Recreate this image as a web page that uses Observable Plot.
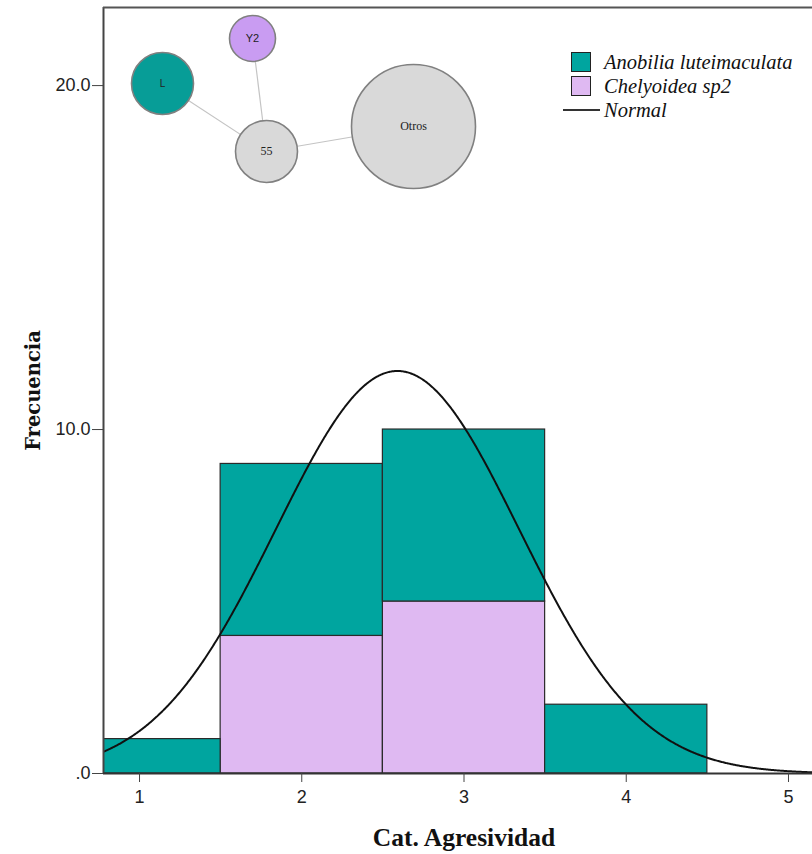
<!DOCTYPE html>
<html>
<head>
<meta charset="utf-8">
<script src="https://cdn.jsdelivr.net/npm/d3@7"></script>
<script src="https://cdn.jsdelivr.net/npm/@observablehq/plot@0.6"></script>
<style>
  html, body { margin: 0; padding: 0; background: #fff; }
  #wrap { position: relative; width: 812px; height: 854px; overflow: hidden; }
  #wrap > svg, #wrap > .inset { position: absolute; left: 0; top: 0; }
  .legend { position: absolute; left: 563px; top: 50px; font-family: "Liberation Serif", serif; font-style: italic; font-size: 20.5px; color: #111; }
  .legend .row { display: flex; align-items: center; height: 24px; }
  .legend .sw { width: 18px; height: 18px; border: 1px solid #222; margin-left: 8px; margin-right: 13px; }
  .legend .ln { width: 37px; height: 2px; background: #333; margin-right: 4px; }
</style>
</head>
<body>
<div id="wrap"></div>
<script>
// ---- data ----
const categories = [1, 2, 3, 4];
const anobilia = [1, 5, 5, 2];
const chelyoidea = [0, 4, 5, 0];
const seriesNames = ["Anobilia luteimaculata", "Chelyoidea sp2"];
const seriesColors = ["#00a59f", "#dfb9f2"];
const xTicks = [1, 2, 3, 4, 5];
const yTicks = [0, 10, 20];
const xDomain = [0.778, 5.148];
const yDomain = [0, 22.27];
// fitted normal curve parameters
const normalMean = 2.59;
const normalSd = 0.75;
const normalN = 22;
const binWidth = 1;

// network inset (layout units)
const nodeNames = ["L", "Y2", "55", "Otros"];
const nodeX = [162, 252, 266, 413];
const nodeY = [83, 38, 151, 126];
const nodeR = [31, 23, 31, 62];
const nodeFill = ["#079d97", "#c99cf2", "#d9d9d9", "#d9d9d9"];
const nodeFont = ["Liberation Sans", "Liberation Sans", "Liberation Serif", "Liberation Serif"];
const nodeFontSize = [10, 11, 12, 12];
const edgeFrom = ["L", "Y2", "55"];
const edgeTo = ["55", "55", "Otros"];

// ---- build tables ----
const rows = [];
categories.forEach((c, i) => {
  if (chelyoidea[i] > 0) rows.push({x1: c - binWidth / 2, x2: c + binWidth / 2, y: chelyoidea[i], series: seriesNames[1]});
});
categories.forEach((c, i) => {
  if (anobilia[i] > 0) rows.push({x1: c - binWidth / 2, x2: c + binWidth / 2, y: anobilia[i], series: seriesNames[0]});
});
const curve = d3.range(xDomain[0], xDomain[1] + 0.005, 0.005).map(x => {
  const z = (x - normalMean) / normalSd;
  return {x, y: normalN * binWidth / (normalSd * Math.sqrt(2 * Math.PI)) * Math.exp(-0.5 * z * z)};
});

const main = Plot.plot({
  width: 812,
  height: 854,
  marginLeft: 103,
  marginRight: 0,
  marginTop: 7,
  marginBottom: 81,
  style: {fontFamily: "Liberation Sans", fontSize: "18px", color: "#222", background: "transparent"},
  x: {domain: xDomain},
  y: {domain: yDomain},
  color: {domain: seriesNames, range: seriesColors},
  marks: [
    Plot.rectY(rows, {x1: "x1", x2: "x2", y: "y", fill: "series", stroke: "#2a2a2a", strokeWidth: 1.2, clip: true}),
    Plot.line(curve, {x: "x", y: "y", stroke: "#111", strokeWidth: 2, clip: true}),
    Plot.ruleX([xDomain[0]], {stroke: "#444", strokeWidth: 2}),
    Plot.ruleY([yDomain[0]], {stroke: "#333", strokeWidth: 2}),
    Plot.ruleY([yDomain[1]], {stroke: "#555", strokeWidth: 2}),
    Plot.axisY({ticks: yTicks, tickFormat: d => d === 0 ? ".0" : d.toFixed(1), tickSize: 11, tickPadding: 2, label: null, stroke: "#444"}),
    Plot.axisX({ticks: xTicks, tickFormat: d => String(d), tickSize: 9, tickPadding: 8, label: null, stroke: "#444"}),
    Plot.text(["Frecuencia"], {frameAnchor: "left", textAnchor: "middle", dx: -70, rotate: -90, fontFamily: "DejaVu Serif", fontWeight: "bold", fontSize: 19.5, fill: "#111"}),
    Plot.text(["Cat. Agresividad"], {frameAnchor: "bottom", textAnchor: "middle", dx: 6, dy: 72, fontFamily: "Liberation Serif", fontWeight: "bold", fontSize: 25.5, fill: "#111"})
  ]
});

const nodes = nodeNames.map((n, i) => ({name: n, x: nodeX[i], y: nodeY[i], r: nodeR[i], fill: nodeFill[i], font: nodeFont[i], size: nodeFontSize[i]}));
const byName = Object.fromEntries(nodes.map(d => [d.name, d]));
const edges = edgeFrom.map((f, i) => ({x1: byName[f].x, y1: byName[f].y, x2: byName[edgeTo[i]].x, y2: byName[edgeTo[i]].y}));

const inset = Plot.plot({
  width: 812,
  height: 200,
  margin: 0,
  style: {background: "transparent"},
  x: {domain: [0, 812], axis: null},
  y: {domain: [0, 200], reverse: true, axis: null},
  r: {type: "identity"},
  marks: [
    Plot.link(edges, {x1: "x1", y1: "y1", x2: "x2", y2: "y2", stroke: "#c4c4c4", strokeWidth: 1.2}),
    Plot.dot(nodes, {x: "x", y: "y", r: "r", fill: "fill", stroke: "#808080", strokeWidth: 1.6}),
    ...nodes.map(d => Plot.text([d], {x: "x", y: "y", text: "name", fontFamily: d.font, fontSize: d.size, fill: "#222"}))
  ]
});
inset.classList.add("inset");

const wrap = document.getElementById("wrap");
wrap.appendChild(main);
wrap.appendChild(inset);

const legend = document.createElement("div");
legend.className = "legend";
seriesNames.forEach((n, i) => {
  const row = document.createElement("div");
  row.className = "row";
  const sw = document.createElement("div");
  sw.className = "sw";
  sw.style.background = seriesColors[i];
  const t = document.createElement("span");
  t.textContent = n;
  row.appendChild(sw); row.appendChild(t);
  legend.appendChild(row);
});
const nrow = document.createElement("div");
nrow.className = "row";
const ln = document.createElement("div");
ln.className = "ln";
const nt = document.createElement("span");
nt.textContent = "Normal";
nrow.appendChild(ln); nrow.appendChild(nt);
legend.appendChild(nrow);
wrap.appendChild(legend);
</script>
</body>
</html>
